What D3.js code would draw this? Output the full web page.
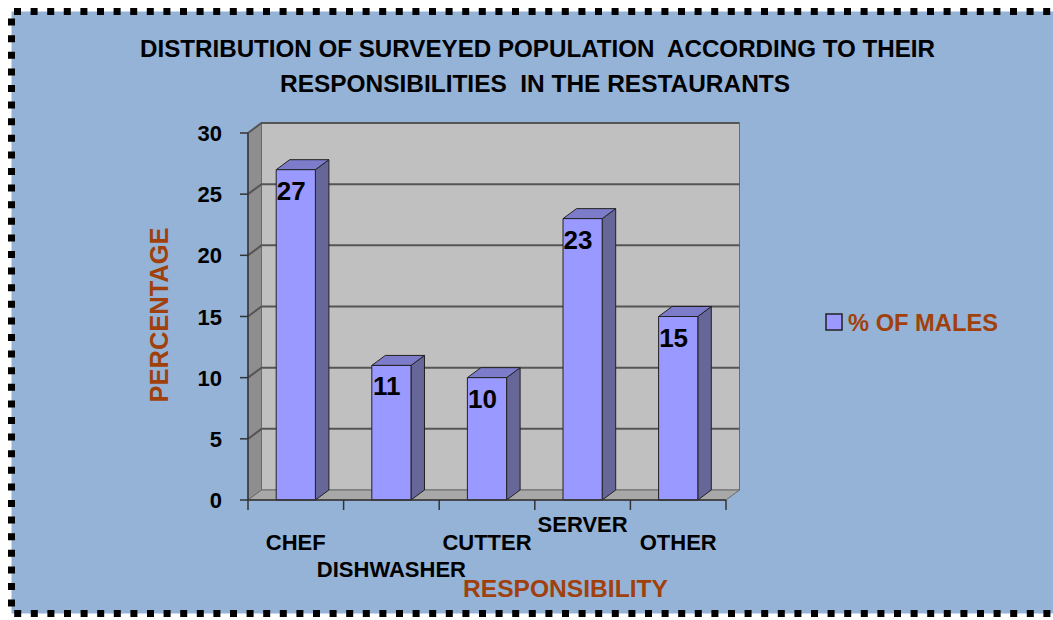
<!DOCTYPE html>
<html>
<head>
<meta charset="utf-8">
<script src="https://cdn.jsdelivr.net/npm/d3@7"></script>
<style>
  html, body { margin: 0; padding: 0; background: #ffffff; overflow: hidden; }
  svg { display: block; }
  text { font-family: "Liberation Sans", Arial, sans-serif; font-weight: bold; white-space: pre; }
</style>
</head>
<body>
<svg id="chart" width="1053" height="620"></svg>
<script>
// ---- data ----
const categories = ["CHEF", "DISHWASHER", "CUTTER", "SERVER", "OTHER"];
const malePercent = [27, 11, 10, 23, 15];
const yTicks = [0, 5, 10, 15, 20, 25, 30];
const titleLines = [
  "DISTRIBUTION OF SURVEYED POPULATION  ACCORDING TO THEIR",
  "RESPONSIBILITIES  IN THE RESTAURANTS"
];
const seriesName = "% OF MALES";
const xTitle = "RESPONSIBILITY";
const yTitle = "PERCENTAGE";

// ---- layout ----
const svg = d3.select("#chart");
const plot = { left: 248, right: 726, top: 133, bottom: 500 };
const depth = { dx: 13.5, dy: -10 };           // oblique offset of the 3-D back plane
const brown = "#A0410D";
const barFront = "#9999FF", barSide = "#666699", barTop = "#7C7CCB";

const y = d3.scaleLinear().domain([0, 30]).range([plot.bottom, plot.top]);
const x = d3.scaleBand().domain(categories).range([plot.left, plot.right])
  .paddingInner(0.59).paddingOuter(0.295);
const bw = x.bandwidth();
const step = x.step();

// chart area; the dotted frame runs on the left, top and bottom edges
svg.append("rect")
  .attr("x", 11.5).attr("y", 11.5).attr("width", 1100).attr("height", 602)
  .attr("fill", "#95B3D7");
const frame = svg.append("g").attr("stroke", "#000").attr("stroke-width", 7)
  .attr("stroke-dasharray", "7 9.6").attr("fill", "none");
frame.append("polyline").attr("points", "1100,11.5 11.5,11.5 11.5,613.5 1100,613.5");

// title
titleLines.forEach((line, i) => {
  svg.append("text")
    .attr("x", i === 0 ? 140 : 280).attr("y", i === 0 ? 57 : 92)
    .attr("font-size", 23).attr("fill", "#000")
    .attr("textLength", i === 0 ? 795 : 510).attr("lengthAdjust", "spacingAndGlyphs")
    .text(line);
});

// 3-D walls
const pt = (a) => a.map(p => p.join(",")).join(" ");
const walls = svg.append("g").attr("stroke", "#6a6a6a").attr("stroke-width", 1);
walls.append("rect")
  .attr("x", plot.left + depth.dx).attr("y", plot.top + depth.dy)
  .attr("width", plot.right - plot.left).attr("height", plot.bottom - plot.top)
  .attr("fill", "#C0C0C0");
walls.append("polygon")
  .attr("points", pt([[plot.left, plot.top], [plot.left + depth.dx, plot.top + depth.dy],
                      [plot.left + depth.dx, plot.bottom + depth.dy], [plot.left, plot.bottom]]))
  .attr("fill", "#8E8E8E");
walls.append("polygon")
  .attr("points", pt([[plot.left, plot.bottom], [plot.left + depth.dx, plot.bottom + depth.dy],
                      [plot.right + depth.dx, plot.bottom + depth.dy], [plot.right, plot.bottom]]))
  .attr("fill", "#A8A8A8");

// gridlines on back and side walls
const grid = svg.append("g").attr("stroke", "#555").attr("stroke-width", 2).attr("fill", "none");
yTicks.filter(t => t > 0).forEach(t => {
  grid.append("polyline")
    .attr("points", pt([[plot.left, y(t)], [plot.left + depth.dx, y(t) + depth.dy],
                        [plot.right + depth.dx, y(t) + depth.dy]]));
});

// bars
const bars = svg.append("g").attr("stroke", "#222").attr("stroke-width", 1).attr("stroke-linejoin", "round");
categories.forEach((c, i) => {
  const v = malePercent[i];
  const x0 = x(c), x1 = x0 + bw, yt = y(v), yb = y(0);
  bars.append("polygon")
    .attr("points", pt([[x1, yt], [x1 + depth.dx, yt + depth.dy], [x1 + depth.dx, yb + depth.dy], [x1, yb]]))
    .attr("fill", barSide);
  bars.append("polygon")
    .attr("points", pt([[x0, yt], [x0 + depth.dx, yt + depth.dy], [x1 + depth.dx, yt + depth.dy], [x1, yt]]))
    .attr("fill", barTop);
  bars.append("rect")
    .attr("x", x0).attr("y", yt).attr("width", bw).attr("height", yb - yt)
    .attr("fill", barFront);
});

// value labels
categories.forEach((c, i) => {
  const v = malePercent[i];
  svg.append("text")
    .attr("x", x(c) + 15).attr("y", y(v) + 30)
    .attr("text-anchor", "middle").attr("font-size", 26).attr("fill", "#000")
    .text(v);
});

// y axis
const yAxis = svg.append("g").attr("stroke", "#333").attr("stroke-width", 1.5);
yAxis.append("line").attr("x1", plot.left).attr("x2", plot.left).attr("y1", plot.top).attr("y2", plot.bottom);
yTicks.forEach(t => {
  yAxis.append("line").attr("x1", plot.left - 8).attr("x2", plot.left).attr("y1", y(t)).attr("y2", y(t));
  svg.append("text")
    .attr("x", 222).attr("y", y(t) + 8)
    .attr("text-anchor", "end").attr("font-size", 22).attr("fill", "#000")
    .text(t);
});

// x axis
const xAxis = svg.append("g").attr("stroke", "#333").attr("stroke-width", 1.5);
xAxis.append("line").attr("x1", plot.left).attr("x2", plot.right).attr("y1", plot.bottom).attr("y2", plot.bottom);
d3.range(categories.length + 1).forEach(k => {
  const bx = plot.left + k * step;
  xAxis.append("line").attr("x1", bx).attr("x2", bx).attr("y1", plot.bottom).attr("y2", plot.bottom + 10);
});
// staggered category labels
const labelBaseline = [550, 577, 550, 532, 550];
categories.forEach((c, i) => {
  svg.append("text")
    .attr("x", x(c) + bw / 2).attr("y", labelBaseline[i])
    .attr("text-anchor", "middle").attr("font-size", 22).attr("fill", "#000")
    .text(c);
});

// axis titles
svg.append("text")
  .attr("transform", "translate(168,315) rotate(-90)")
  .attr("text-anchor", "middle").attr("font-size", 25).attr("fill", brown)
  .attr("textLength", 175).attr("lengthAdjust", "spacingAndGlyphs")
  .text(yTitle);
svg.append("text")
  .attr("x", 463).attr("y", 597)
  .attr("font-size", 24).attr("fill", brown)
  .attr("textLength", 205).attr("lengthAdjust", "spacingAndGlyphs")
  .text(xTitle);

// legend
svg.append("rect")
  .attr("x", 826).attr("y", 314).attr("width", 16).attr("height", 16)
  .attr("fill", barFront).attr("stroke", "#222").attr("stroke-width", 1.5);
svg.append("text")
  .attr("x", 848).attr("y", 331)
  .attr("font-size", 24).attr("fill", brown)
  .attr("textLength", 150).attr("lengthAdjust", "spacingAndGlyphs")
  .text(seriesName);
</script>
</body>
</html>
